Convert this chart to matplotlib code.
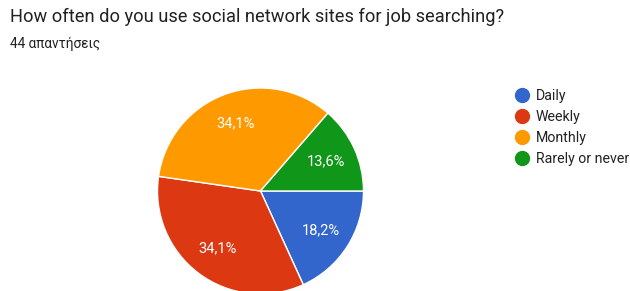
import matplotlib.pyplot as plt
from matplotlib.lines import Line2D

plt.rcParams['font.family'] = ['Roboto', 'DejaVu Sans']

title = "How often do you use social network sites for job searching?"
subtitle = "44 απαντήσεις"
categories = ["Daily", "Weekly", "Monthly", "Rarely or never"]
counts = [8, 15, 15, 6]
colors = ["#3366cc", "#dc3912", "#ff9900", "#109618"]

W, H = 630, 291
fig = plt.figure(figsize=(W / 100, H / 100), dpi=100)

fig.text(10 / W, 1 - 8 / H, title, fontsize=13.15, color="#212121", va="top", ha="left")
fig.text(10 / W, 1 - 37 / H, subtitle, fontsize=9.8, color="#212121", va="top", ha="left")

# pie centre ~ (260.5, 191) px, radius ~103 px
cx, cy, r = 260.5, 191, 103
ax = fig.add_axes([(cx - r) / W, (H - cy - r) / H, 2 * r / W, 2 * r / H])
ax.pie(counts, colors=colors, startangle=0, counterclock=False, radius=1,
       autopct=lambda p: f"{p:.1f}".replace(".", ",") + "%", pctdistance=0.7,
       wedgeprops=dict(edgecolor="white", linewidth=1),
       textprops=dict(color="white", fontsize=10.5))
ax.set_xlim(-1, 1)
ax.set_ylim(-1, 1)
ax.set_aspect("equal")
ax.axis("off")

handles = [Line2D([], [], marker="o", linestyle="", markersize=10,
                  markerfacecolor=c, markeredgecolor=c) for c in colors]
fig.legend(handles, categories, loc="upper left", bbox_to_anchor=(508 / W, 1 - 83 / H),
           frameon=False, fontsize=10.2, handletextpad=0.35, labelspacing=0.5,
           handlelength=1.2, borderaxespad=0, labelcolor="#222222")

fig.savefig("out.png", dpi=100)
